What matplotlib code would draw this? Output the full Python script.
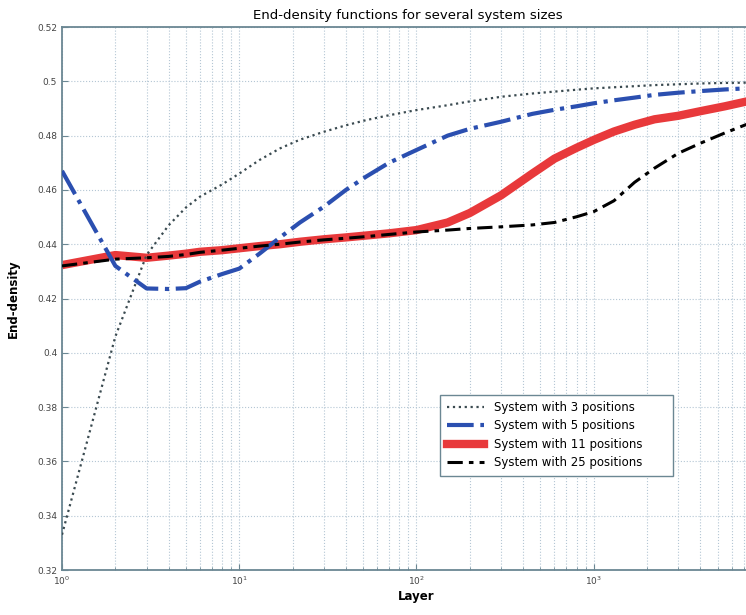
import matplotlib
matplotlib.use("Agg")
import matplotlib.pyplot as plt
from matplotlib.ticker import FormatStrFormatter, LogLocator, NullFormatter

# layer index where each curve was sampled
layers = [1, 2, 3, 4, 5, 6, 8, 10, 13, 17, 22, 30, 40, 52, 70, 100, 150, 200,
          300, 450, 600, 800, 1000, 1300, 1700, 2200, 3000, 4000, 5500, 7200, 10000]

density_3 = [0.3330, 0.4060, 0.4360, 0.4470, 0.4535, 0.4575, 0.4620, 0.4660,
             0.4710, 0.4753, 0.4785, 0.4814, 0.4838, 0.4857, 0.4875, 0.4894,
             0.4912, 0.4926, 0.4943, 0.4955, 0.4962, 0.4969, 0.4974, 0.4978,
             0.4982, 0.4986, 0.4989, 0.4992, 0.4994, 0.4995, 0.4997]

density_5 = [0.4670, 0.4320, 0.4237, 0.4235, 0.4238, 0.4262, 0.4290, 0.4310,
             0.4365, 0.4425, 0.4480, 0.4538, 0.4600, 0.4649, 0.4700, 0.4747,
             0.4800, 0.4825, 0.4851, 0.4880, 0.4895, 0.4908, 0.4919, 0.4930,
             0.4940, 0.4950, 0.4958, 0.4964, 0.4970, 0.4974, 0.4978]

density_11 = [0.4323, 0.4360, 0.4350, 0.4358, 0.4365, 0.4372, 0.4378, 0.4385,
              0.4393, 0.4400, 0.4409, 0.4418, 0.4425, 0.4432, 0.4440, 0.4452,
              0.4480, 0.4515, 0.4580, 0.4660, 0.4715, 0.4755, 0.4784, 0.4815,
              0.4840, 0.4860, 0.4873, 0.4890, 0.4908, 0.4925, 0.4940]

density_25 = [0.4320, 0.4345, 0.4350, 0.4355, 0.4362, 0.4370, 0.4378, 0.4385,
              0.4393, 0.4400, 0.4408, 0.4416, 0.4422, 0.4428, 0.4436, 0.4445,
              0.4452, 0.4458, 0.4464, 0.4471, 0.4480, 0.4501, 0.4520, 0.4560,
              0.4628, 0.4680, 0.4735, 0.4772, 0.4810, 0.4840, 0.4870]

labels = ["System with 3 positions", "System with 5 positions",
          "System with 11 positions", "System with 25 positions"]

AXIS_COLOR = "#6b8793"
GRID_COLOR = "#b4c6d4"

fig = plt.figure(figsize=(7.46, 6.15), dpi=100)
# axes run past the right edge of the figure
ax = fig.add_axes([62 / 746, 45 / 615, 709 / 746, 543 / 615])

ax.plot(layers, density_3, color="#3a4a50", linestyle=":", linewidth=1.6,
        label=labels[0], zorder=3)
ax.plot(layers, density_5, color="#2b4fb0", linestyle="-.", linewidth=3.0,
        label=labels[1], zorder=4)
ax.plot(layers, density_11, color="#e8393b", linestyle="-", linewidth=6.0,
        label=labels[2], zorder=2)
ax.plot(layers, density_25, color="black", linestyle=(0, (5, 2, 1.5, 2)),
        linewidth=2.2, label=labels[3], zorder=5)

ax.set_xscale("log")
ax.set_xlim(1, 1e4)
ax.set_ylim(0.32, 0.52)
ax.set_yticks([0.32 + 0.02 * i for i in range(11)])
ax.yaxis.set_major_formatter(FormatStrFormatter("%g"))
ax.set_xticks([1, 10, 100, 1000])
ax.xaxis.set_minor_locator(LogLocator(base=10, subs=range(2, 10), numticks=10))
ax.xaxis.set_minor_formatter(NullFormatter())

ax.grid(True, which="major", color=GRID_COLOR, linestyle=":", linewidth=0.8)
ax.grid(True, which="minor", axis="x", color=GRID_COLOR, linestyle=":",
        linewidth=0.8)

ax.tick_params(which="both", direction="in", colors=AXIS_COLOR,
               labelcolor="#444444", labelsize=6.5)
ax.tick_params(which="major", length=4)
ax.tick_params(which="minor", length=2.5)
for name, spine in ax.spines.items():
    spine.set_color(AXIS_COLOR)
    spine.set_linewidth(1.3)
ax.spines["right"].set_visible(False)

ax.set_title("End-density functions for several system sizes", fontsize=9.5,
             x=0.488, pad=6)
ax.set_xlabel("Layer", fontsize=8.5, fontweight="bold", labelpad=2)
ax.set_ylabel("End-density", fontsize=8.5, fontweight="bold", labelpad=12)

leg = ax.legend(loc="lower left", bbox_to_anchor=(0.525, 0.163, 0.345, 0.15),
                mode="expand", fontsize=8.5, fancybox=False, framealpha=1,
                edgecolor=AXIS_COLOR, handlelength=3.2, borderpad=0.55,
                labelspacing=0.45)
leg.get_frame().set_linewidth(1.0)

fig.savefig("out.png", dpi=100)
